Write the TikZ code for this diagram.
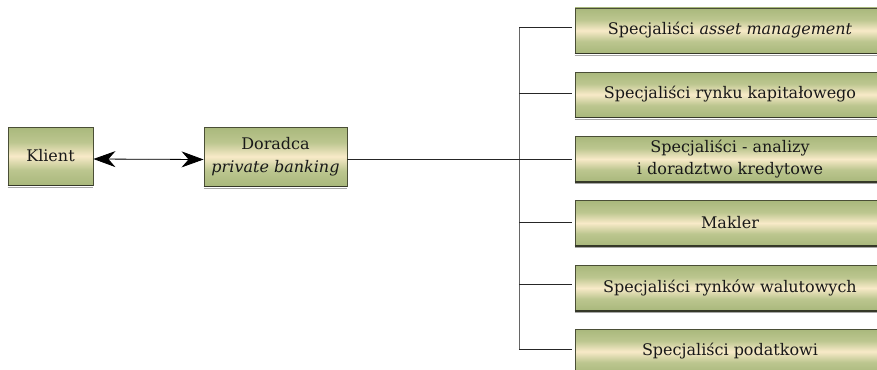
\documentclass[tikz,border=0pt]{standalone}
\usepackage{fontspec}
\setmainfont{DejaVu Serif}
\usetikzlibrary{arrows.meta}
\definecolor{boxgreen}{HTML}{A9B87C}
\definecolor{boxgreen2}{HTML}{BCC68F}
\definecolor{boxmid}{HTML}{F8EAC8}
\definecolor{boxedge}{HTML}{4A4E36}
\definecolor{boxbase}{HTML}{353828}
\pgfdeclareverticalshading{boxshade}{100bp}{color(0bp)=(boxgreen); color(25bp)=(boxgreen);
  color(38bp)=(boxgreen2); color(50bp)=(boxmid); color(62bp)=(boxgreen2); color(75bp)=(boxgreen); color(100bp)=(boxgreen)}
\begin{document}
\begin{tikzpicture}[x=1pt,y=-1pt,
  box/.style={draw=boxedge, line width=0.9pt, shading=boxshade,
    align=center, inner sep=0pt, font=\fontsize{16}{22.5}\selectfont, text=black!90},
  rbox/.style={box, minimum width=310pt, minimum height=45pt},
  link/.style={draw=black!85, line width=0.7pt},
  bigtip/.tip={Stealth[length=22pt,width=16pt,inset=7pt]}]
\useasboundingbox (0,0) rectangle (877,369);
\clip (0,0) rectangle (877,369);
\node[box, minimum width=85pt, minimum height=58pt] (klient) at (50.5,156) {Klient};
\node[box, minimum width=143pt, minimum height=59pt] (doradca) at (275.5,156.5) {Doradca\\\textit{private banking}};
\node[rbox] (s1) at (730,30.5) {Specjaliści \textit{asset management}};
\node[rbox] (s2) at (730,94.5) {Specjaliści rynku kapitałowego};
\node[rbox] (s3) at (730,159) {Specjaliści - analizy\\i doradztwo kredytowe};
\node[rbox] (s4) at (730,223) {Makler};
\node[rbox] (s5) at (730,288) {Specjaliści rynków walutowych};
\node[rbox] (s6) at (730,351.5) {Specjaliści podatkowi};
\foreach \n in {klient,doradca,s1,s2,s3,s4,s5,s6}{
  \draw[black!35, line width=1pt] ([yshift=-1.6pt]\n.south west) -- ([yshift=-1.6pt]\n.south east);
  \draw[boxbase, line width=1.5pt] (\n.south west) -- (\n.south east);
}
\draw[line width=0.8pt, draw=black, fill=black, bigtip-bigtip]
  ([yshift=-3pt]klient.east) -- ([yshift=-3pt]doradca.west);
\coordinate (b1) at (519,27);
\coordinate (b2) at (519,93);
\coordinate (b3) at (519,159.5);
\coordinate (b4) at (519,222);
\coordinate (b5) at (519,284);
\coordinate (b6) at (519,349);
\draw[link] ([yshift=-3pt]doradca.east) -- (b3);
\draw[link, draw=black!60] (b1) -- (b6);
\foreach \i in {1,...,6}
  \draw[link, shorten >=2.5pt] (b\i) -- (s\i.west |- b\i);
\end{tikzpicture}
\end{document}
